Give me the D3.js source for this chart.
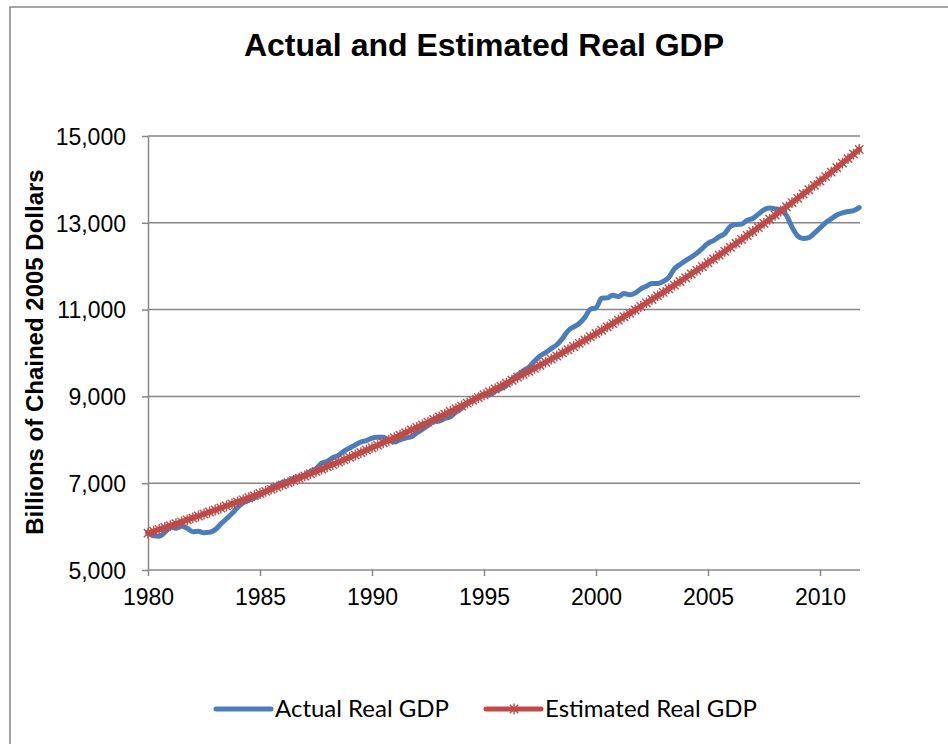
<!DOCTYPE html>
<html>
<head>
<meta charset="utf-8">
<script src="https://cdn.jsdelivr.net/npm/d3@7"></script>
<style>
  html, body { margin: 0; padding: 0; background: #ffffff; }
  svg { display: block; }
</style>
</head>
<body>
<svg id="chart" width="948" height="744"></svg>
<script>
// Quarterly observations, 1980 Q1 through 2011 Q4 (billions of chained 2005 dollars)
const startYear = 1980;
const actualGDP = [
  5870, 5790, 5780, 5870,   5990, 5960, 6010, 5960,   // 1980-1981
  5880, 5890, 5860, 5870,   5930, 6060, 6180, 6300,   // 1982-1983
  6440, 6550, 6610, 6660,   6740, 6800, 6900, 6950,   // 1984-1985
  7020, 7050, 7110, 7150,   7190, 7270, 7330, 7460,   // 1986-1987
  7500, 7590, 7640, 7740,   7810, 7880, 7950, 7980,   // 1988-1989
  8040, 8060, 8060, 7990,   7950, 8000, 8040, 8070,   // 1990-1991
  8160, 8240, 8330, 8420,   8430, 8490, 8530, 8640,   // 1992-1993
  8730, 8850, 8900, 9000,   9030, 9040, 9120, 9180,   // 1994-1995
  9250, 9400, 9490, 9590,   9670, 9810, 9930, 10010,  // 1996-1997
  10100, 10190, 10330, 10510, 10600, 10680, 10820, 11010, // 1998-1999
  11040, 11260, 11270, 11330, 11300, 11370, 11340, 11380, // 2000-2001
  11480, 11540, 11600, 11600, 11650, 11740, 11940, 12040, // 2002-2003
  12130, 12210, 12300, 12410, 12530, 12590, 12680, 12750, // 2004-2005
  12920, 12960, 12970, 13060, 13100, 13200, 13300, 13340, // 2006-2007
  13320, 13300, 13170, 12900, 12700, 12640, 12660, 12760, // 2008-2009
  12880, 13000, 13090, 13180, 13230, 13260, 13280, 13350  // 2010-2011
];
const estimatedGDP = [
  5850, 5893, 5935, 5979,   6022, 6066, 6110, 6154,
  6199, 6244, 6290, 6336,   6382, 6428, 6475, 6522,
  6570, 6617, 6666, 6714,   6763, 6812, 6862, 6912,
  6962, 7013, 7064, 7115,   7167, 7219, 7271, 7324,
  7378, 7431, 7485, 7540,   7595, 7650, 7706, 7762,
  7818, 7875, 7932, 7990,   8048, 8107, 8166, 8225,
  8285, 8345, 8406, 8467,   8529, 8591, 8653, 8716,
  8780, 8844, 8908, 8973,   9038, 9104, 9170, 9237,
  9304, 9372, 9440, 9508,   9578, 9647, 9718, 9788,
  9860, 9931, 10004, 10076, 10150, 10223, 10298, 10373,
  10448, 10524, 10601, 10678, 10756, 10834, 10913, 10992,
  11072, 11153, 11234, 11316, 11398, 11481, 11565, 11649,
  11733, 11819, 11905, 11991, 12079, 12167, 12255, 12344,
  12434, 12525, 12616, 12708, 12800, 12893, 12987, 13082,
  13177, 13272, 13369, 13466, 13564, 13663, 13762, 13863,
  13963, 14065, 14167, 14270, 14374, 14479, 14584, 14690
];
const yearTicks = [1980, 1985, 1990, 1995, 2000, 2005, 2010];
const valueTicks = [5000, 7000, 9000, 11000, 13000, 15000];
const seriesNames = ["Actual Real GDP", "Estimated Real GDP"];
const seriesColors = ["#4A7EBB", "#BE4B48"];

const svg = d3.select("#chart");
const gridColor = "#878787";
const sansFont = "'Liberation Sans', Arial, sans-serif";

// Outer chart frame
svg.append("rect")
  .attr("x", 10).attr("y", 7).attr("width", 960).attr("height", 760)
  .attr("fill", "none").attr("stroke", gridColor).attr("stroke-width", 1.5);

const x = d3.scaleLinear().domain([1980, 2011.75]).range([148, 859.2]);
const y = d3.scaleLinear().domain([5000, 15000]).range([570, 136]);
const plotRight = 860;

const quarterYear = i => startYear + i / 4;

// Horizontal gridlines
svg.append("g").selectAll("line")
  .data(valueTicks.slice(1))
  .join("line")
  .attr("x1", 148).attr("x2", plotRight)
  .attr("y1", d => y(d)).attr("y2", d => y(d))
  .attr("stroke", gridColor).attr("stroke-width", 1.5);

// Y axis
const yAxis = svg.append("g")
  .attr("transform", "translate(148,0)")
  .call(d3.axisLeft(y).tickValues(valueTicks).tickSize(6).tickSizeOuter(0)
        .tickFormat(d3.format(",")));
yAxis.select(".domain").attr("stroke", gridColor).attr("stroke-width", 1.5);
yAxis.selectAll(".tick line").attr("stroke", gridColor).attr("stroke-width", 1.5);
yAxis.selectAll(".tick text")
  .attr("x", -22)
  .attr("dy", "0.36em")
  .style("font-family", sansFont)
  .style("font-size", "23px").attr("fill", "#000");

// X axis
const xAxis = svg.append("g")
  .attr("transform", "translate(0,570)")
  .call(d3.axisBottom(x).tickValues(yearTicks).tickSize(6).tickSizeOuter(0)
        .tickFormat(d3.format("d")));
xAxis.select(".domain").attr("d", `M148,0H${plotRight}`)
  .attr("stroke", gridColor).attr("stroke-width", 1.5);
xAxis.selectAll(".tick line").attr("stroke", gridColor).attr("stroke-width", 1.5);
xAxis.selectAll(".tick text")
  .attr("y", 35)
  .attr("dy", 0)
  .style("font-family", sansFont)
  .style("font-size", "23px").attr("fill", "#000");

const line = d3.line()
  .x((d, i) => x(quarterYear(i)))
  .y(d => y(d))
  .curve(d3.curveMonotoneX);

// Actual series
svg.append("path")
  .datum(actualGDP)
  .attr("fill", "none")
  .attr("stroke", seriesColors[0])
  .attr("stroke-width", 5)
  .attr("stroke-linejoin", "round")
  .attr("stroke-linecap", "round")
  .attr("d", line);

// Estimated trend series with star markers
svg.append("path")
  .datum(estimatedGDP)
  .attr("fill", "none")
  .attr("stroke", seriesColors[1])
  .attr("stroke-width", 5.5)
  .attr("stroke-linejoin", "round")
  .attr("stroke-linecap", "round")
  .attr("d", d3.line().x((d, i) => x(quarterYear(i))).y(d => y(d)));

const starPath = "M-4.2,-4.2L4.2,4.2M-4.2,4.2L4.2,-4.2M0,-5.4L0,5.4";
svg.append("g").selectAll("path")
  .data(estimatedGDP)
  .join("path")
  .attr("transform", (d, i) => `translate(${x(quarterYear(i))},${y(d)})`)
  .attr("d", starPath)
  .attr("fill", "none")
  .attr("stroke", seriesColors[1])
  .attr("stroke-width", 1.4);

// Title
svg.append("text")
  .attr("x", 484).attr("y", 56)
  .attr("text-anchor", "middle")
  .style("font-family", sansFont)
  .style("font-weight", "bold")
  .style("font-size", "32px")
  .text("Actual and Estimated Real GDP");

// Y axis title
svg.append("text")
  .attr("transform", "translate(43,352) rotate(-90)")
  .attr("text-anchor", "middle")
  .style("font-family", sansFont)
  .style("font-weight", "bold")
  .style("font-size", "24px")
  .text("Billions of Chained 2005 Dollars");

// Legend
const legend = svg.append("g");
const legendItems = [
  { name: seriesNames[0], color: seriesColors[0], x0: 216, marker: false },
  { name: seriesNames[1], color: seriesColors[1], x0: 486, marker: true }
];
legendItems.forEach(item => {
  const g = legend.append("g").attr("transform", `translate(${item.x0},709)`);
  g.append("line")
    .attr("x1", 0).attr("x2", 55).attr("y1", 0).attr("y2", 0)
    .attr("stroke", item.color).attr("stroke-width", 5)
    .attr("stroke-linecap", "round");
  if (item.marker) {
    g.append("path").attr("transform", "translate(28,0)")
      .attr("d", starPath).attr("fill", "none")
      .attr("stroke", item.color).attr("stroke-width", 1.4);
  }
  g.append("text")
    .attr("x", 59).attr("y", 8)
    .style("font-family", "Lato, 'Open Sans', sans-serif")
    .style("font-size", "24px")
    .attr("fill", "#000")
    .text(item.name);
});
</script>
</body>
</html>
